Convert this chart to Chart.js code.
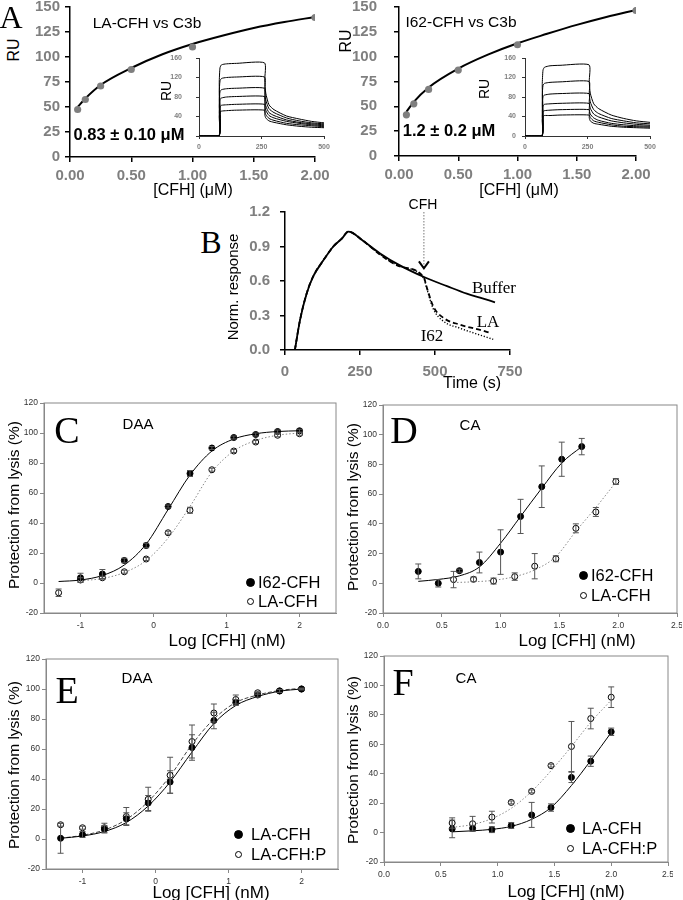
<!DOCTYPE html>
<html>
<head>
<meta charset="utf-8">
<script src="https://cdn.jsdelivr.net/npm/chart.js@4.4.0/dist/chart.umd.min.js"></script>
<style>
  body { margin: 0; background: #fff; width: 683px; height: 900px; position: relative; overflow: hidden; }
  canvas { position: absolute; }
  .t { position: absolute; white-space: nowrap; line-height: 1; font-family: "Liberation Sans", Arial, sans-serif; color: #000; }
</style>
</head>
<body>
<script>
// ---------- panel A: steady-state binding ----------
const conc = [0.0625, 0.125, 0.25, 0.5, 1.0, 2.0];
const ruLA = [47.5, 57.5, 71, 87.5, 110, 139.5];
const ruI62 = [41.5, 52.5, 67, 86.5, 112, 146.5];
const fitConc = [0.0625, 0.125, 0.25, 0.5, 0.75, 1.0, 1.25, 1.5, 1.75, 2.0];
const fitLA = [50, 58.5, 72, 89, 102.5, 113, 121.5, 129, 135, 140];
const fitI62 = [44.5, 54.5, 69, 88, 102, 113.5, 123, 132, 140, 147];

// sensorgram insets
const tInLA = [0, 80, 81, 84, 90, 110, 150, 262, 263, 267, 280, 300, 350, 400, 450, 500];
const sensLA = [
  [0, 0, 110, 140, 146, 148, 149, 150, 115, 88, 64, 54, 41, 35, 30, 27],
  [0, 0, 90, 113, 118, 120, 121, 121, 95, 74, 56, 48, 37, 31, 27, 25],
  [0, 0, 72, 91, 95, 97, 98, 98, 78, 62, 48, 42, 33, 28, 25, 23],
  [0, 0, 60, 75, 78, 80, 81, 81, 65, 53, 42, 37, 30, 26, 23, 21],
  [0, 0, 48, 60, 63, 64, 65, 65, 53, 44, 36, 32, 26, 23, 21, 19],
  [0, 0, 39, 49, 51, 52, 53, 53, 44, 37, 31, 28, 23, 20, 18, 17]
];
const tInI62 = [0, 68, 69, 72, 78, 100, 140, 256, 257, 261, 275, 295, 345, 395, 445, 500];
const sensI62 = [
  [0, 0, 105, 135, 141, 144, 145, 146, 112, 88, 66, 56, 43, 36, 31, 28],
  [0, 0, 82, 104, 108, 110, 111, 112, 88, 70, 54, 46, 36, 31, 27, 25],
  [0, 0, 64, 81, 84, 86, 87, 87, 70, 57, 45, 39, 31, 27, 24, 22],
  [0, 0, 50, 62, 65, 66, 67, 67, 55, 45, 37, 32, 26, 23, 21, 20],
  [0, 0, 40, 50, 52, 53, 54, 54, 45, 38, 31, 28, 23, 20, 19, 18],
  [0, 0, 32, 40, 42, 42, 43, 43, 37, 31, 26, 24, 20, 18, 17, 16]
];

// ---------- panel B: normalised response ----------
const tBuf = [33, 50, 72, 94, 128, 161, 190, 211, 260, 317, 380, 467, 540, 606, 650, 700];
const respBuf = [0, 0.26, 0.49, 0.64, 0.78, 0.90, 0.97, 1.03, 0.95, 0.84, 0.74, 0.63, 0.555, 0.49, 0.455, 0.415];
const tLA = [33, 50, 72, 94, 128, 161, 190, 211, 260, 317, 380, 463, 472, 494, 528, 583, 650, 683];
const respLA = [0, 0.26, 0.49, 0.64, 0.78, 0.90, 0.97, 1.03, 0.95, 0.83, 0.73, 0.63, 0.55, 0.38, 0.28, 0.22, 0.175, 0.15];
const tI62 = [33, 50, 72, 94, 128, 161, 190, 211, 260, 317, 380, 463, 472, 494, 528, 583, 650, 694];
const respI62 = [0, 0.26, 0.49, 0.64, 0.78, 0.90, 0.97, 1.03, 0.95, 0.83, 0.73, 0.62, 0.54, 0.36, 0.25, 0.19, 0.13, 0.093];
const tCFH = 463;

// ---------- panel C: DAA, I62 vs LA ----------
const logC_I62 = [-1, -0.7, -0.4, -0.1, 0.2, 0.5, 0.8, 1.1, 1.4, 1.7, 2.0];
const protC_I62 = [3.5, 6, 15, 25, 51, 73, 90, 97, 99, 101, 101.5];
const errC_I62 = [3, 3, 1.5, 1.5, 1, 2, 1, 1, 1, 1, 1];
const logC_LA = [-1.3, -1, -0.7, -0.4, -0.1, 0.2, 0.5, 0.8, 1.1, 1.4, 1.7, 2.0];
const protC_LA = [-6.5, 2, 3.5, 7.5, 16, 33.5, 48.5, 75.5, 88, 94, 98.5, 99.5];
const errC_LA = [2.5, 1.5, 1, 1, 1, 1, 2, 1, 1, 1, 1, 1];
const fitC_x1 = [-1.3, -1, -0.7, -0.4, -0.1, 0.2, 0.5, 0.8, 1.1, 1.4, 1.7, 2.0];
const fitC_I62 = [1, 2, 5, 12, 26, 49, 72, 88, 96, 99.5, 101, 101.5];
const fitC_x2 = [-1, -0.7, -0.4, -0.1, 0.2, 0.5, 0.8, 1.1, 1.4, 1.7, 2.0];
const fitC_LA = [1.5, 3, 7, 15, 30, 51, 74, 88, 95, 98.5, 100];

// ---------- panel D: CA, I62 vs LA ----------
const logD_I62 = [0.30, 0.47, 0.65, 0.82, 1.0, 1.17, 1.35, 1.52, 1.69];
const protD_I62 = [8, 0, 8.5, 14, 21, 45, 65, 83.5, 92];
const errD_I62 = [5, 2.5, 1, 7, 15, 11.5, 14, 11.5, 5.5];
const logD_LA = [0.60, 0.77, 0.94, 1.12, 1.29, 1.47, 1.64, 1.81, 1.98];
const protD_LA = [2.5, 2.7, 1.5, 4.5, 11.5, 16.5, 37, 48, 68.5];
const errD_LA = [5.5, 1.5, 2, 2.5, 8.5, 2, 3, 3, 2];
const fitD_I62 = [1.3, 2.6, 5, 11, 27, 45, 64, 81, 92];
const fitD_LA = [0.5, 1, 2, 4.5, 9, 18, 35, 51, 68];

// ---------- panel E: DAA, LA-CFH vs LA-CFH:P ----------
const logE = [-1.3, -1, -0.7, -0.4, -0.1, 0.2, 0.5, 0.8, 1.1, 1.4, 1.7, 2.0];
const protE_LA = [0.5, 3, 6.5, 13.5, 24, 38, 61, 79, 91, 96, 98.7, 100];
const errE_LA = [10, 2, 2.5, 4, 5, 7.5, 8.5, 5.5, 2, 1.5, 1, 0.5];
const protE_P = [9.5, 7.5, 7.5, 15, 26.5, 42.5, 65, 84, 93, 97.5, 98.7, 100];
const errE_P = [1, 1, 3, 6, 8, 12, 11, 6, 3, 1, 1, 0.5];
const fitE_LA = [0.5, 2, 5, 11, 22, 38, 58, 77, 89, 95, 98.5, 100];
const fitE_P = [0.5, 2.5, 6, 13, 25, 42, 63, 80, 91, 96, 99, 100.5];

// ---------- panel F: CA, LA-CFH vs LA-CFH:P ----------
const logF = [0.60, 0.78, 0.95, 1.12, 1.30, 1.47, 1.65, 1.82, 2.0];
const protF_LA = [2.5, 2.9, 2.0, 4.8, 12, 17, 37.5, 48.5, 68.5];
const errF_LA = [6, 2, 2, 2, 8.5, 2.5, 3.5, 3.5, 2.5];
const protF_P = [6.5, 6, 10.5, 20.5, 28, 45.5, 58.5, 77.5, 92];
const errF_P = [3.5, 5, 4, 1, 1, 1, 17, 7, 7];
const fitF_LA = [0.5, 1.2, 2.2, 4.2, 9, 17, 32, 49, 68];
const fitF_P = [3.5, 5.5, 9.5, 16.5, 28, 42, 58.5, 75, 90];

// ---------- helpers ----------
const SANS = '"Liberation Sans", Arial, sans-serif';
const SERIF = '"Liberation Serif", "Times New Roman", serif';
const pts = (xs, ys) => xs.map((x, i) => ({ x: x, y: ys[i] }));

const framePlugin = {
  id: 'frame',
  afterDraw(chart, args, opts) {
    const a = chart.chartArea, ctx = chart.ctx;
    ctx.save();
    ctx.strokeStyle = opts.color || '#888';
    ctx.lineWidth = 1;
    ctx.strokeRect(a.left, a.top, a.right - a.left, a.bottom - a.top);
    ctx.restore();
  }
};

const errPlugin = {
  id: 'errs',
  afterDatasetsDraw(chart) {
    const ctx = chart.ctx, xs = chart.scales.x, ys = chart.scales.y;
    chart.data.datasets.forEach(ds => {
      if (!ds.errs) return;
      ctx.save();
      ctx.strokeStyle = '#555';
      ctx.lineWidth = 1;
      ds.data.forEach((p, i) => {
        const e = ds.errs[i];
        if (!e) return;
        const x = xs.getPixelForValue(p.x);
        const y1 = ys.getPixelForValue(p.y + e), y2 = ys.getPixelForValue(p.y - e);
        ctx.beginPath();
        ctx.moveTo(x, y1); ctx.lineTo(x, y2);
        ctx.moveTo(x - 3, y1); ctx.lineTo(x + 3, y1);
        ctx.moveTo(x - 3, y2); ctx.lineTo(x + 3, y2);
        ctx.stroke();
      });
      ctx.restore();
    });
  }
};

// injection arrow in panel B
const arrowPlugin = {
  id: 'arrow',
  afterDraw(chart) {
    const ctx = chart.ctx, xs = chart.scales.x, ys = chart.scales.y;
    const x = xs.getPixelForValue(tCFH), y1 = ys.getPixelForValue(1.2), y2 = ys.getPixelForValue(0.71);
    ctx.save();
    ctx.strokeStyle = '#777'; ctx.lineWidth = 1; ctx.setLineDash([1.5, 1.5]);
    ctx.beginPath(); ctx.moveTo(x, y1); ctx.lineTo(x, y2); ctx.stroke();
    ctx.setLineDash([]); ctx.strokeStyle = '#000'; ctx.lineWidth = 2;
    ctx.beginPath(); ctx.moveTo(x - 5, y2 - 7); ctx.lineTo(x, y2); ctx.lineTo(x + 5, y2 - 7); ctx.stroke();
    ctx.restore();
  }
};

function makeChart(area, m, datasets, sx, sy, extraPlugins, pluginOpts) {
  const c = document.createElement('canvas');
  const W = area.r - area.l + m.l + m.r, H = area.b - area.t + m.t + m.b;
  c.width = W; c.height = H;
  c.style.left = (area.l - m.l) + 'px';
  c.style.top = (area.t - m.t) + 'px';
  c.style.width = W + 'px'; c.style.height = H + 'px';
  document.body.appendChild(c);
  sx.afterFit = s => { s.height = m.b; s.paddingLeft = 0; s.paddingRight = 0; };
  sy.afterFit = s => { s.width = m.l; s.paddingTop = 0; s.paddingBottom = 0; };
  return new Chart(c, {
    type: 'scatter',
    data: { datasets: datasets },
    options: {
      responsive: false, animation: false, devicePixelRatio: 1,
      layout: { padding: { left: 0, top: m.t, right: m.r, bottom: 0 } },
      plugins: Object.assign({ legend: { display: false }, tooltip: { enabled: false } }, pluginOpts || {}),
      scales: { x: sx, y: sy }
    },
    plugins: [errPlugin].concat(extraPlugins || [])
  });
}

function axis(o) {
  const ax = {
    type: 'linear', min: o.min, max: o.max,
    ticks: {
      stepSize: o.step, autoSkip: false, maxRotation: 0, padding: o.pad,
      color: o.color, font: { family: SANS, size: o.size, weight: o.weight || 'normal' },
      callback: o.fmt
    },
    grid: { display: true, drawOnChartArea: false, drawTicks: true, tickLength: o.tick, color: o.line, lineWidth: o.lw },
    border: { display: true, color: o.line, width: o.lw }
  };
  if (o.vals) ax.afterBuildTicks = s => { s.ticks = o.vals.map(v => ({ value: v })); };
  return ax;
}

const line = (xs, ys, style) => Object.assign({
  data: pts(xs, ys), showLine: true, pointRadius: 0, borderColor: '#000', borderWidth: 1,
  cubicInterpolationMode: 'monotone', fill: false
}, style);

const marks = (xs, ys, errs, filled, r) => ({
  data: pts(xs, ys), showLine: false, errs: errs,
  pointRadius: r || 3, pointBorderWidth: 1, pointBorderColor: '#000',
  pointBackgroundColor: filled ? '#000' : '#fff'
});

function label(txt, x, y, css, rot, anchorLeft) {
  const d = document.createElement('div');
  d.className = 't';
  d.textContent = txt;
  d.style.cssText += css || '';
  d.style.left = x + 'px';
  d.style.top = y + 'px';
  d.style.transform = (anchorLeft ? 'translate(0,-50%)' : 'translate(-50%,-50%)') + (rot ? ' rotate(-90deg)' : '');
  document.body.appendChild(d);
}

function dot(x, y, filled, r) {
  const d = document.createElement('div');
  d.style.cssText = 'position:absolute;box-sizing:border-box;border:1px solid #000;border-radius:50%;' +
    'left:' + (x - r) + 'px;top:' + (y - r) + 'px;width:' + (2 * r) + 'px;height:' + (2 * r) + 'px;background:' + (filled ? '#000' : '#fff');
  document.body.appendChild(d);
}

// ---------- panel A charts ----------
const fmt2 = v => v.toFixed(2);
const fmt1 = v => v.toFixed(1);
const aY = pad => axis({ min: 0, max: 150, step: 25, pad: pad, color: '#7f7f7f', size: 15, weight: 'bold', tick: 5, line: '#000', lw: 1.5 });
const aX = () => axis({ min: 0, max: 2, step: 0.5, pad: 5, color: '#7f7f7f', size: 15, weight: 'bold', tick: 5, line: '#000', lw: 1.5, fmt: fmt2 });
const grayDots = (xs, ys) => ({ data: pts(xs, ys), showLine: false, pointRadius: 3.6, pointBorderWidth: 0, pointBackgroundColor: '#7f7f7f' });

makeChart({ l: 70, r: 315, t: 7, b: 157 }, { l: 48, t: 7, r: 22, b: 26 },
  [grayDots(conc, ruLA), line(fitConc, fitLA, { borderWidth: 2 })], aX(), aY(5));
makeChart({ l: 399, r: 636, t: 7, b: 156 }, { l: 48, t: 7, r: 22, b: 26 },
  [grayDots(conc, ruI62), line(fitConc, fitI62, { borderWidth: 2 })], aX(), aY(17));

const inX = () => axis({ min: 0, max: 500, step: 250, pad: 4, color: '#7f7f7f', size: 7, weight: 'bold', tick: 3, line: '#333', lw: 1 });
const inY = pad => axis({ min: 0, max: 160, step: 40, pad: pad, color: '#7f7f7f', size: 7, weight: 'bold', tick: 3, line: '#333', lw: 1 });
const traces = (ts, rows) => rows.map(r => line(ts, r, { borderWidth: 1, cubicInterpolationMode: 'default', tension: 0.2 }));

makeChart({ l: 199, r: 324, t: 58, b: 136 }, { l: 30, t: 5, r: 10, b: 16 }, traces(tInLA, sensLA), inX(), inY(14));
makeChart({ l: 525, r: 650, t: 58, b: 136 }, { l: 30, t: 5, r: 10, b: 16 }, traces(tInI62, sensI62), inX(), inY(6));

// ---------- panel B chart ----------
makeChart({ l: 285, r: 510, t: 212, b: 350 }, { l: 50, t: 6, r: 15, b: 28 },
  [
    line(tBuf, respBuf, { borderWidth: 1.8 }),
    line(tLA, respLA, { borderWidth: 1.8, borderDash: [5, 3] }),
    line(tI62, respI62, { borderWidth: 1.4, borderDash: [1.2, 1.8] })
  ],
  axis({ min: 0, max: 750, step: 250, pad: 8, color: '#7f7f7f', size: 15, weight: 'bold', tick: 5, line: '#000', lw: 1.5 }),
  axis({ min: 0, max: 1.2, step: 0.3, pad: 10, color: '#7f7f7f', size: 15, weight: 'bold', tick: 5, line: '#000', lw: 1.5, fmt: fmt1 }),
  [arrowPlugin]);

// ---------- panels C-F charts ----------
const pY = () => axis({ min: -20, max: 120, step: 20, pad: 2, color: '#333', size: 8.5, tick: 4, line: '#888', lw: 1 });
const pXlog = () => axis({ min: -1.5, max: 2.5, vals: [-1, 0, 1, 2], pad: 4, color: '#333', size: 8.5, tick: 4, line: '#888', lw: 1 });
const pXlin = () => axis({ min: 0, max: 2.5, step: 0.5, pad: 4, color: '#333', size: 8.5, tick: 4, line: '#888', lw: 1, fmt: fmt1 });
const dotted = { borderColor: '#888', borderDash: [1.5, 2] };
const margins = { l: 30, t: 5, r: 4, b: 22 };

makeChart({ l: 44, r: 337, t: 403, b: 613 }, margins,
  [marks(logC_I62, protC_I62, errC_I62, true), marks(logC_LA, protC_LA, errC_LA, false),
   line(fitC_x1, fitC_I62), line(fitC_x2, fitC_LA, dotted)],
  pXlog(), pY(), [framePlugin]);

makeChart({ l: 383, r: 678, t: 405, b: 613 }, margins,
  [marks(logD_I62, protD_I62, errD_I62, true), marks(logD_LA, protD_LA, errD_LA, false),
   line(logD_I62, fitD_I62), line(logD_LA, fitD_LA, dotted)],
  pXlin(), pY(), [framePlugin]);

makeChart({ l: 46, r: 339, t: 659, b: 869 }, margins,
  [marks(logE, protE_LA, errE_LA, true), marks(logE, protE_P, errE_P, false),
   line(logE, fitE_LA), line(logE, fitE_P, { borderDash: [4, 2], borderColor: '#444' })],
  pXlog(), pY(), [framePlugin]);

makeChart({ l: 384, r: 669, t: 656, b: 862 }, margins,
  [marks(logF, protF_LA, errF_LA, true), marks(logF, protF_P, errF_P, false),
   line(logF, fitF_LA), line(logF, fitF_P, dotted)],
  pXlin(), pY(), [framePlugin]);

// ---------- text ----------
const big = 'font-family:' + SERIF + ';';
label('A', 11, 17, big + 'font-size:32px;');
label('LA-CFH vs C3b', 147, 23, 'font-size:15.5px;');
label('0.83 ± 0.10 μM', 129, 134, 'font-size:16.5px;font-weight:bold;');
label('I62-CFH vs C3b', 461, 22, 'font-size:15.5px;');
label('1.2 ± 0.2 μM', 449, 130, 'font-size:16.5px;font-weight:bold;');
label('RU', 14, 50, 'font-size:16px;', true);
label('RU', 346, 41, 'font-size:16px;', true);
label('RU', 166, 91, 'font-size:14px;', true);
label('RU', 484, 89, 'font-size:14px;', true);
label('[CFH] (μM)', 193, 190, 'font-size:16px;');
label('[CFH] (μM)', 519, 190, 'font-size:16px;');

label('B', 211, 242, big + 'font-size:32px;');
label('Norm. response', 232, 287, 'font-size:15px;', true);
label('Time (s)', 472, 383, 'font-size:16px;');
label('CFH', 423, 204, 'font-size:14px;');
label('Buffer', 494, 287, big + 'font-size:17px;');
label('LA', 488, 321, big + 'font-size:17px;');
label('I62', 432, 335, big + 'font-size:17px;');

label('C', 67, 430, big + 'font-size:38px;');
label('DAA', 138, 423, 'font-size:15px;');
label('D', 404, 430, big + 'font-size:38px;');
label('CA', 470, 424, 'font-size:15px;');
label('E', 67, 690, big + 'font-size:38px;');
label('DAA', 137, 677, 'font-size:15px;');
label('F', 403, 682, big + 'font-size:38px;');
label('CA', 466, 677, 'font-size:15px;');

const yt = 'Protection from lysis (%)';
label(yt, 14, 505, 'font-size:15.5px;', true);
label(yt, 353, 507, 'font-size:15.5px;', true);
label(yt, 14, 765, 'font-size:15.5px;', true);
label(yt, 353, 760, 'font-size:15.5px;', true);
const xt = 'Log [CFH] (nM)';
label(xt, 227, 640, 'font-size:17px;');
label(xt, 577, 640, 'font-size:17px;');
label(xt, 211, 892, 'font-size:17px;');
label(xt, 566, 891, 'font-size:17px;');

// legends
const lg = 'font-size:16.5px;';
dot(250, 582, true, 4.5); label('I62-CFH', 258, 582, lg, false, true);
dot(250, 601, false, 3.5); label('LA-CFH', 258, 601, lg, false, true);
dot(583, 575, true, 4.5); label('I62-CFH', 591, 575, lg, false, true);
dot(583, 595, false, 3.5); label('LA-CFH', 591, 595, lg, false, true);
dot(238, 834, true, 4.5); label('LA-CFH', 251, 834, lg, false, true);
dot(238, 854, false, 3.5); label('LA-CFH:P', 251, 854, lg, false, true);
dot(570, 828, true, 4.5); label('LA-CFH', 582, 828, lg, false, true);
dot(570, 848, false, 3.5); label('LA-CFH:P', 582, 848, lg, false, true);
</script>
</body>
</html>
